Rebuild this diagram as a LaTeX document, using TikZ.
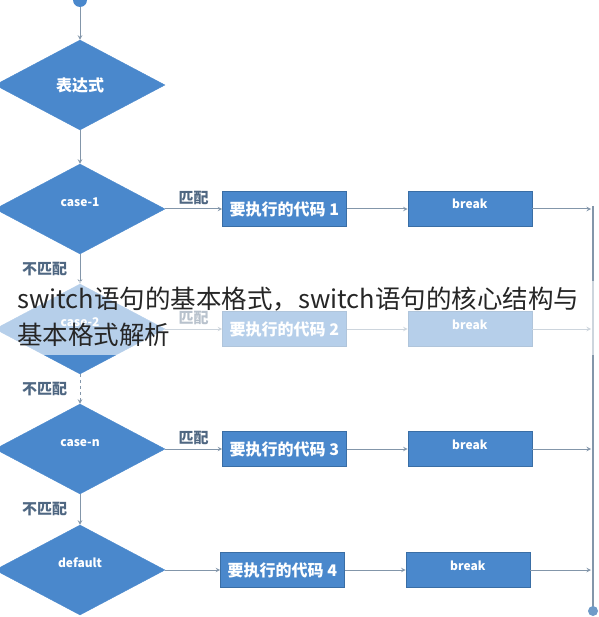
\documentclass[tikz,border=0pt]{standalone}
\usepackage{fontspec}
\setmainfont{Noto Sans CJK SC}
\usetikzlibrary{shapes, arrows, positioning}

\definecolor{flowblue}{HTML}{4A88CC}
\definecolor{flowedge}{HTML}{3A6EA5}
\definecolor{linkgray}{HTML}{8396AA}
\definecolor{tagtext}{HTML}{4F6782}
\definecolor{dotblue}{HTML}{6F9BC8}
\definecolor{captext}{HTML}{262626}

\begin{document}
\begin{tikzpicture}[
        x=1pt, y=-1pt,
        decision/.style={diamond, draw=flowblue, fill=flowblue, minimum width=170pt, minimum height=90pt, inner sep=0pt, text=white, font=\fontsize{12}{14}\selectfont\bfseries},
        casetext/.style={text height=9pt, text depth=14pt},
        codebox/.style={rectangle, draw=flowedge, fill=flowblue, minimum width=124pt, minimum height=35pt, inner sep=0pt, text=white, font=\fontsize{16}{18}\selectfont\bfseries},
        breakbox/.style={codebox, font=\fontsize{12}{14}\selectfont\bfseries, text height=9pt, text depth=9pt},
        arrow/.style={->, >=stealth, draw=linkgray, line width=1pt},
        rail/.style={draw=linkgray, line width=1.4pt},
        tag/.style={text=tagtext, font=\fontsize{15}{17}\selectfont\bfseries},
        caption/.style={align=left, inner sep=0pt, text=captext, font=\fontsize{25.5}{36}\selectfont}
    ]
        \useasboundingbox (0,0) rectangle (598,617);

        % Start and decisions
        \node[circle, fill=flowblue, minimum size=14pt, inner sep=0pt] (start) at (80,0) {};
        \node[decision, font=\fontsize{16}{18}\selectfont\bfseries] (expr) at (80,85) {表达式};
        \node[decision, casetext] (case1) at (80,209) {case-1};
        \node[decision, casetext] (case2) at (80,329) {case-2};
        \node[decision, casetext] (casen) at (80,449) {case-n};
        \node[decision, casetext] (dflt) at (80,570) {default};

        % Code and break boxes
        \node[codebox, right=57pt of case1] (code1) {要执行的代码 1};
        \node[breakbox, right=61pt of code1] (brk1) {break};
        \node[codebox, right=57pt of case2] (code2) {要执行的代码 2};
        \node[breakbox, right=61pt of code2] (brk2) {break};
        \node[codebox, right=57pt of casen] (code3) {要执行的代码 3};
        \node[breakbox, right=61pt of code3] (brk3) {break};
        \node[codebox, right=55pt of dflt] (code4) {要执行的代码 4};
        \node[breakbox, right=61pt of code4] (brk4) {break};

        % Exit rail
        \coordinate (railtop) at (593,206);
        \coordinate (railend) at (593,611);
        \draw[rail] (railtop) -- (railend);
        \node[circle, fill=dotblue, minimum size=10pt, inner sep=0pt] (finish) at (railend) {};

        % Arrows
        \draw[arrow] (start) -- (expr);
        \draw[arrow] (expr) -- (case1);
        \draw[arrow] (case1) -- node[tag, left=9pt] {不匹配} (case2);
        \draw[arrow, dashed] (case2) -- node[tag, left=9pt] {不匹配} (casen);
        \draw[arrow] (casen) -- node[tag, left=9pt] {不匹配} (dflt);
        \draw[arrow] (case1) -- node[tag, above] {匹配} (code1);
        \draw[arrow] (case2) -- node[tag, above] {匹配} (code2);
        \draw[arrow] (casen) -- node[tag, above] {匹配} (code3);
        \draw[arrow] (dflt) -- (code4);
        \draw[arrow] (code1) -- (brk1);
        \draw[arrow] (code2) -- (brk2);
        \draw[arrow] (code3) -- (brk3);
        \draw[arrow] (code4) -- (brk4);
        \draw[arrow, shorten >=2pt] (brk1) -- (brk1 -| railtop);
        \draw[arrow, shorten >=2pt] (brk2) -- (brk2 -| railtop);
        \draw[arrow, shorten >=2pt] (brk3) -- (brk3 -| railtop);
        \draw[arrow, shorten >=2pt] (brk4) -- (brk4 -| railtop);

        % Caption band
        \fill[white, opacity=0.6] (0,281) rectangle (598,355);
        \node[caption, anchor=north west] (title) at (17,287) {switch语句的基本格式，switch语句的核心结构与\\基本格式解析};
    \end{tikzpicture}
\end{document}
